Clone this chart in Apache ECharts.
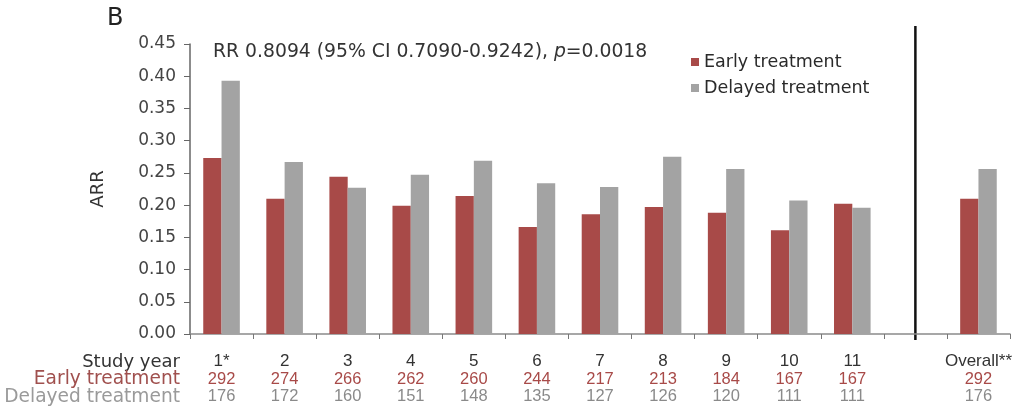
<!DOCTYPE html>
<html>
<head>
<meta charset="utf-8">
<style>
  html, body { margin: 0; padding: 0; background: #fff; }
  #chart { width: 1028px; height: 409px; }
</style>
<script src="https://cdn.jsdelivr.net/npm/echarts@6/dist/echarts.min.js"></script>
</head>
<body>
<div id="chart"></div>
<script>
// Study years plus a spacer slot before the overall column
const categories = ['1*', '2', '3', '4', '5', '6', '7', '8', '9', '10', '11', '', 'Overall**'];

// Annualised relapse rate per study year
const earlyARR   = [0.273, 0.210, 0.244, 0.199, 0.214, 0.166, 0.186, 0.197, 0.188, 0.161, 0.202, null, 0.210];
const delayedARR = [0.393, 0.267, 0.227, 0.247, 0.269, 0.234, 0.228, 0.275, 0.256, 0.207, 0.196, null, 0.256];

// Patients at risk per study year
const earlyN   = [292, 274, 266, 262, 260, 244, 217, 213, 184, 167, 167, '', 292];
const delayedN = [176, 172, 160, 151, 148, 135, 127, 126, 120, 111, 111, '', 176];

const yTicks = { min: 0, max: 0.45, interval: 0.05 };
const spacerIndex = 11;

const RED = '#a84a48';
const GREY = '#a3a3a3';
const FONT = '"DejaVu Sans", sans-serif';
const NUMFONT = '"Liberation Sans", Arial, sans-serif';

const chart = echarts.init(document.getElementById('chart'));

const option = {
  animation: false,
  backgroundColor: '#ffffff',
  grid: { left: 190, right: 18, top: 44, bottom: 75, containLabel: false },
  legend: {
    orient: 'vertical',
    left: 686,
    top: 48,
    icon: 'rect',
    itemWidth: 8,
    itemHeight: 8,
    itemGap: 8,
    textStyle: { fontFamily: FONT, fontSize: 17.5, color: '#2a2a2a' },
    data: ['Early treatment', 'Delayed treatment']
  },
  xAxis: {
    type: 'category',
    data: categories,
    boundaryGap: true,
    axisLine: { lineStyle: { color: '#8a8a8a', width: 1.5 } },
    axisTick: { show: true, interval: 0, length: 5, lineStyle: { color: '#777' } },
    axisLabel: {
      interval: 0,
      margin: 19,
      formatter: function (value, idx) {
        return '{y|' + value + '}\n{e|' + earlyN[idx] + '}\n{d|' + delayedN[idx] + '}';
      },
      rich: {
        y: { fontFamily: NUMFONT, fontSize: 17, color: '#333', lineHeight: 17.5 },
        e: { fontFamily: NUMFONT, fontSize: 16.5, color: RED, lineHeight: 17.5 },
        d: { fontFamily: NUMFONT, fontSize: 16.5, color: '#8a8a8a', lineHeight: 17.5 }
      }
    }
  },
  yAxis: {
    type: 'value',
    min: yTicks.min,
    max: yTicks.max,
    interval: yTicks.interval,
    name: 'ARR',
    nameLocation: 'middle',
    nameGap: 83,
    nameRotate: 90,
    nameTextStyle: { fontFamily: FONT, fontSize: 18, color: '#333' },
    axisLine: { show: true, lineStyle: { color: '#666', width: 1.5 } },
    axisTick: { show: true, length: 6, lineStyle: { color: '#666' } },
    splitLine: { show: false },
    axisLabel: {
      margin: 14,
      fontFamily: FONT,
      fontSize: 17,
      color: '#444',
      formatter: v => v.toFixed(2)
    }
  },
  series: [
    {
      name: 'Early treatment',
      type: 'bar',
      data: earlyARR,
      barWidth: '29%',
      barGap: '0%',
      itemStyle: { color: RED }
    },
    {
      name: 'Delayed treatment',
      type: 'bar',
      data: delayedARR,
      barWidth: '29%',
      barGap: '0%',
      itemStyle: { color: GREY }
    }
  ]
};

chart.setOption(option);

// Panel letter, rate-ratio annotation, table row headers and the divider before the overall column
const bottomY = chart.convertToPixel({ yAxisIndex: 0 }, 0);
const dividerX = chart.convertToPixel({ xAxisIndex: 0 }, spacerIndex);

chart.setOption({
  graphic: [
    {
      type: 'text', left: 107, top: 7,
      style: { text: 'B', fontFamily: FONT, fontSize: 24, fill: '#222' }
    },
    {
      type: 'text', x: 213, y: 52,
      style: {
        text: '{n|RR 0.8094 (95% CI 0.7090-0.9242), }{i|p}{n|=0.0018}',
        rich: {
          n: { fontFamily: FONT, fontSize: 18.8, fill: '#333' },
          i: { fontFamily: FONT, fontSize: 18.8, fill: '#333', fontStyle: 'italic' }
        },
        verticalAlign: 'middle'
      }
    },
    {
      type: 'text', x: 180, y: bottomY + 28,
      style: { text: 'Study year', fontFamily: FONT, fontSize: 18, fill: '#333', align: 'right', verticalAlign: 'middle' }
    },
    {
      type: 'text', x: 180, y: bottomY + 45.5,
      style: { text: 'Early treatment', fontFamily: FONT, fontSize: 18.6, fill: '#a0504e', align: 'right', verticalAlign: 'middle' }
    },
    {
      type: 'text', x: 180, y: bottomY + 63,
      style: { text: 'Delayed treatment', fontFamily: FONT, fontSize: 18.6, fill: '#9a9a9a', align: 'right', verticalAlign: 'middle' }
    },
    {
      type: 'line',
      shape: { x1: dividerX, y1: 26, x2: dividerX, y2: bottomY + 6 },
      style: { stroke: '#111', lineWidth: 2.5 }
    }
  ]
});
</script>
</body>
</html>
